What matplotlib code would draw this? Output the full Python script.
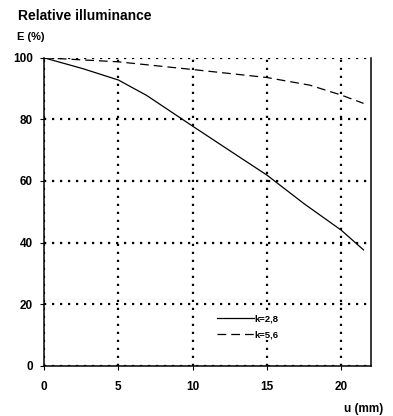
import matplotlib
matplotlib.use("Agg")
import matplotlib.pyplot as plt

# image-height position u (mm) and relative illuminance E (%)
u_k28 = [0, 2.6, 5, 6.9, 10, 12.7, 15, 17.5, 20, 21.5]
e_k28 = [100, 96.5, 92.8, 87.8, 77.8, 69.2, 61.9, 52.6, 44.0, 37.6]

u_k56 = [0, 5, 10, 15, 17.9, 20, 21.5]
e_k56 = [100, 98.7, 96.2, 93.6, 91.1, 87.9, 85.2]

x_ticks = [0, 5, 10, 15, 20]
y_ticks = [0, 20, 40, 60, 80, 100]

plt.rcParams["font.family"] = ["Liberation Sans", "DejaVu Sans"]
plt.rcParams["font.weight"] = "bold"

fig = plt.figure(figsize=(3.93, 4.16), dpi=100)
ax = fig.add_axes([0.112, 0.121, 0.832, 0.740])

ax.plot(u_k28, e_k28, color="black", lw=0.9, label="k=2,8")
ax.plot(u_k56, e_k56, color="black", lw=0.9, dashes=(7, 4), label="k=5,6")

ax.set_xlim(0, 22)
ax.set_ylim(0, 100)
ax.set_xticks(x_ticks)
ax.set_yticks(y_ticks)
ax.tick_params(labelsize=8.5, length=3, width=0.8)
ax.tick_params(axis="x", pad=8)
ax.tick_params(axis="y", pad=5)
for lbl in ax.get_xticklabels() + ax.get_yticklabels():
    lbl.set_fontweight("bold")

ax.grid(True, color="black", lw=1.6, linestyle=(0, (1, 2.6)))
ax.spines["top"].set_visible(False)
for s in ["left", "bottom", "right"]:
    ax.spines[s].set_linewidth(1.1)

# legend sits on a white patch so the gridline behind it is hidden
leg = ax.legend(loc="center left", bbox_to_anchor=(0.526, 0.126), frameon=True,
                facecolor="white", edgecolor="none", framealpha=1, fancybox=False,
                fontsize=6.8, handlelength=3.9, handletextpad=0.1, labelspacing=0.75,
                borderpad=0.1, borderaxespad=0)
for t in leg.get_texts():
    t.set_fontweight("bold")

fig.text(0.046, 0.962, "Relative illuminance", fontsize=10, fontweight="bold", va="center")
fig.text(0.044, 0.911, "E (%)", fontsize=8, fontweight="bold", va="center")
fig.text(0.975, 0.017, "u (mm)", fontsize=8.5, fontweight="bold", ha="right", va="center")

fig.savefig("out.png", dpi=100)
